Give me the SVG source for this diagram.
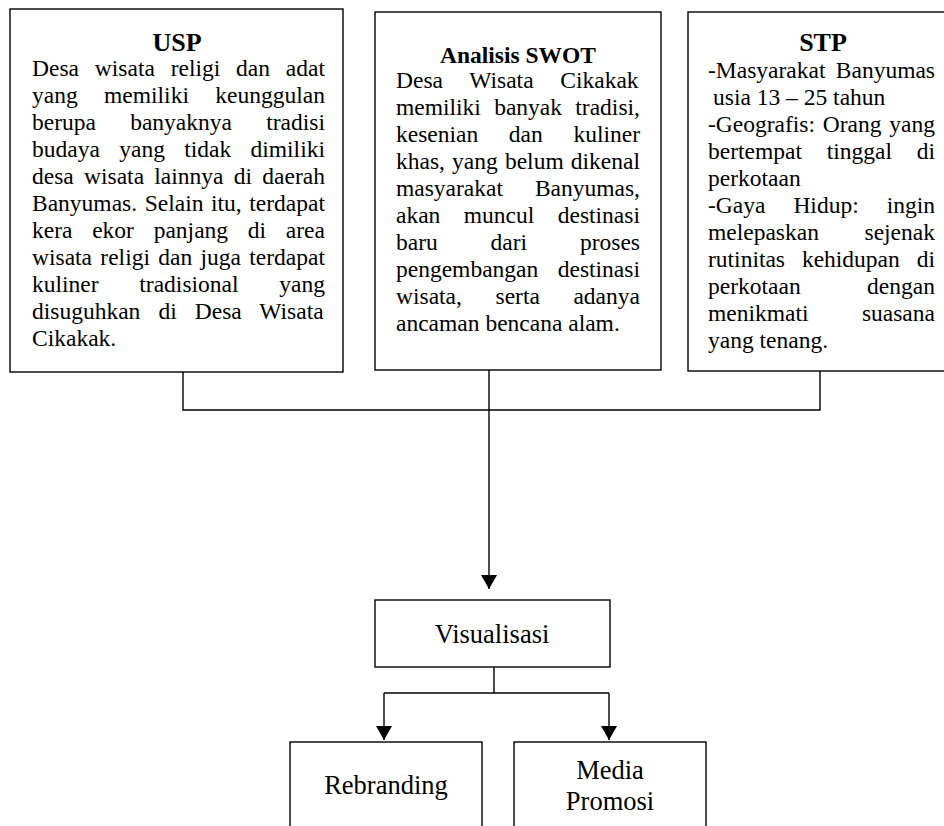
<svg xmlns="http://www.w3.org/2000/svg" width="944" height="826" viewBox="0 0 944 826">
<defs>
<style>
.box{fill:#fff;stroke:#000;stroke-width:1.4}
.t{font-family:"Liberation Serif","Times New Roman",serif;font-size:23.5px;fill:#000}
.h{font-family:"Liberation Serif","Times New Roman",serif;font-weight:bold;fill:#000;text-anchor:middle}
.lbl{font-family:"Liberation Serif","Times New Roman",serif;font-size:26.5px;fill:#000;text-anchor:middle}
.c{fill:none;stroke:#000;stroke-width:1.4}
</style>
<marker id="ah" viewBox="0 0 14 16" refX="14" refY="8" markerWidth="14" markerHeight="16" markerUnits="userSpaceOnUse" orient="auto">
<path d="M0 0 L14 8 L0 16 Z" fill="#000"/>
</marker>
</defs>
<rect width="944" height="826" fill="#fff"/>

<g id="usp">
<rect class="box" x="10" y="9" width="333" height="363"/>
<text class="h" x="177" y="51" font-size="26">USP</text>
<text class="t">
<tspan x="32" y="76" word-spacing="9.95">Desa wisata religi dan adat</tspan>
<tspan x="32" y="103" word-spacing="20.52">yang memiliki keunggulan</tspan>
<tspan x="32" y="130" word-spacing="28.38">berupa banyaknya tradisi</tspan>
<tspan x="32" y="157" word-spacing="13.46">budaya yang tidak dimiliki</tspan>
<tspan x="32" y="184" word-spacing="4.4">desa wisata lainnya di daerah</tspan>
<tspan x="32" y="211" word-spacing="1.72">Banyumas. Selain itu, terdapat</tspan>
<tspan x="32" y="238" word-spacing="13.87">kera ekor panjang di area</tspan>
<tspan x="32" y="265" word-spacing="2.44">wisata religi dan juga terdapat</tspan>
<tspan x="32" y="292" word-spacing="34.89">kuliner tradisional yang</tspan>
<tspan x="32" y="319" word-spacing="12.17">disuguhkan di Desa Wisata</tspan>
<tspan x="32" y="346">Cikakak.</tspan>
</text>
</g>

<g id="swot">
<rect class="box" x="375" y="12" width="286" height="358"/>
<text class="h" x="518" y="63" font-size="23.5">Analisis SWOT</text>
<text class="t">
<tspan x="396" y="88" word-spacing="20.85">Desa Wisata Cikakak</tspan>
<tspan x="396" y="115" word-spacing="7.43">memiliki banyak tradisi,</tspan>
<tspan x="396" y="142" word-spacing="24.76">kesenian dan kuliner</tspan>
<tspan x="396" y="169" word-spacing="1.27">khas, yang belum dikenal</tspan>
<tspan x="396" y="196" word-spacing="26.02">masyarakat Banyumas,</tspan>
<tspan x="396" y="223" word-spacing="17.57">akan muncul destinasi</tspan>
<tspan x="396" y="250" word-spacing="46.95">baru dari proses</tspan>
<tspan x="396" y="277" word-spacing="13.6">pengembangan destinasi</tspan>
<tspan x="396" y="304" word-spacing="27.71">wisata, serta adanya</tspan>
<tspan x="396" y="331">ancaman bencana alam.</tspan>
</text>
</g>

<g id="stp">
<rect class="box" x="688" y="12" width="280" height="359"/>
<text class="h" x="823" y="51" font-size="26">STP</text>
<text class="t">
<tspan x="708" y="78" word-spacing="4.46">-Masyarakat Banyumas</tspan>
<tspan x="713" y="105">usia 13 – 25 tahun</tspan>
<tspan x="708" y="132" word-spacing="1.91">-Geografis: Orang yang</tspan>
<tspan x="708" y="159" word-spacing="18.86">bertempat tinggal di</tspan>
<tspan x="708" y="186">perkotaan</tspan>
<tspan x="708" y="213" word-spacing="22.12">-Gaya Hidup: ingin</tspan>
<tspan x="708" y="240" word-spacing="39.7">melepaskan sejenak</tspan>
<tspan x="708" y="267" word-spacing="11.02">rutinitas kehidupan di</tspan>
<tspan x="708" y="294" word-spacing="60.6">perkotaan dengan</tspan>
<tspan x="708" y="321" word-spacing="47.5">menikmati suasana</tspan>
<tspan x="708" y="348">yang tenang.</tspan>
</text>
</g>

<g id="visualisasi">
<rect class="box" x="375" y="600" width="235" height="67"/>
<text class="lbl" x="492" y="643">Visualisasi</text>
</g>

<g id="rebranding">
<rect class="box" x="290" y="742" width="192" height="110"/>
<text class="lbl" x="386" y="794">Rebranding</text>
</g>

<g id="media-promosi">
<rect class="box" x="514" y="742" width="192" height="110"/>
<text class="lbl" x="610" y="779">Media</text>
<text class="lbl" x="610" y="810">Promosi</text>
</g>

<g id="connectors">
<path class="c" d="M183 372 V410 H820 V371"/>
<path class="c" d="M489 370 V589" marker-end="url(#ah)"/>
<path class="c" d="M494 667 V693"/>
<path class="c" d="M384 693 H609"/>
<path class="c" d="M384 693 V740" marker-end="url(#ah)"/>
<path class="c" d="M609 693 V740" marker-end="url(#ah)"/>
</g>
</svg>
